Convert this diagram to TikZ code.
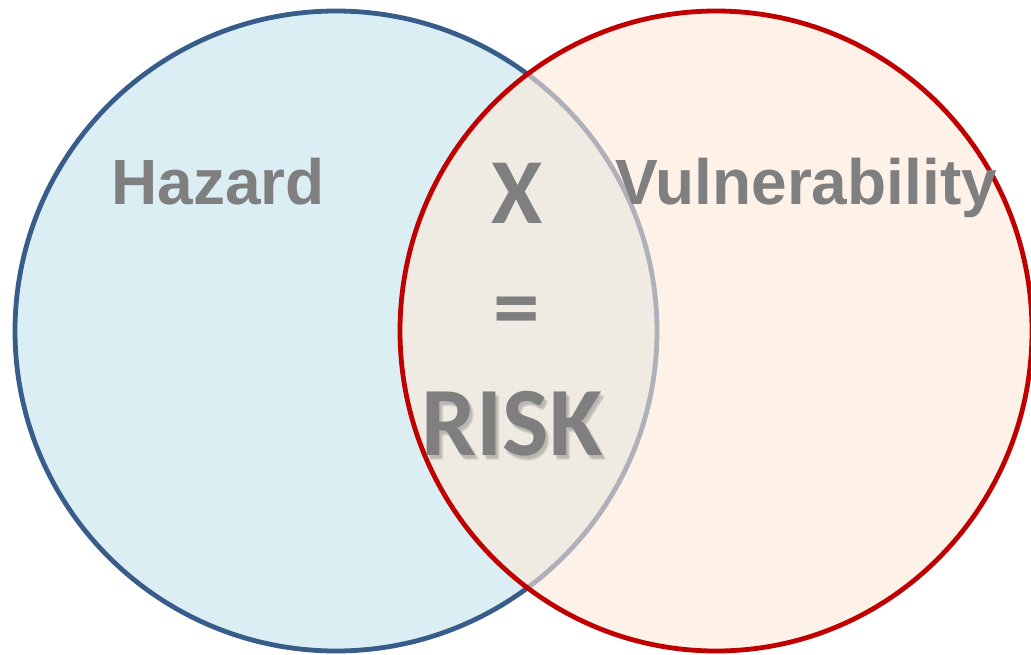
\documentclass[tikz,border=0pt]{standalone}
\usepackage{fontspec}
\newfontfamily\arialbold{Liberation Sans}[BoldFont={* Bold}]
\newfontfamily\calibr{Carlito}[BoldFont={* Bold}]
\definecolor{hazfill}{HTML}{DAEEF3}
\definecolor{hazline}{HTML}{385D8A}
\definecolor{vulfill}{HTML}{FDE9D9}
\definecolor{vulline}{HTML}{C00000}
\definecolor{txtgray}{HTML}{7F7F7F}
\tikzset{
  labeltext/.style={text=txtgray, inner sep=0pt, anchor=base, font=\arialbold\bfseries\fontsize{64}{70}\selectfont},
  risktext/.style={text=txtgray, inner sep=0pt, anchor=base},
  shadowtext/.style={text=black, text opacity=0.08, inner sep=0pt, anchor=base},
}
\begin{document}
\begin{tikzpicture}[x=1pt,y=-1pt]
\useasboundingbox (0,0) rectangle (1031,654);
\fill[white] (0,0) rectangle (1031,654);
% Hazard circle
\draw[line width=4.8pt, draw=hazline, fill=hazfill] (336,331) ellipse [x radius=321, y radius=320];
% Vulnerability circle
\draw[line width=4.8pt, draw=vulline, draw opacity=1, fill=vulfill, fill opacity=0.6] (716,331) ellipse [x radius=316, y radius=320];
% labels
\node[labeltext] (haz) at (218,204) {Hazard};
\node[labeltext] (vul) at (806,204) {Vulnerability};
% soft shadow of RISK
\foreach \dx/\dy in {2/3,3/5,4/4}{
  \node[shadowtext, font=\calibr\bfseries\fontsize{98}{100}\selectfont] at (512+\dx,455+\dy) {RISK};
}
\node[risktext, font=\calibr\bfseries\fontsize{93}{100}\selectfont] (x) at (517,223) {X};
\node[risktext, font=\calibr\bfseries\fontsize{93}{100}\selectfont] (eq) at (517,338) {=};
\node[risktext, font=\calibr\bfseries\fontsize{98}{100}\selectfont] (risk) at (512,455) {RISK};
\end{tikzpicture}
\end{document}
